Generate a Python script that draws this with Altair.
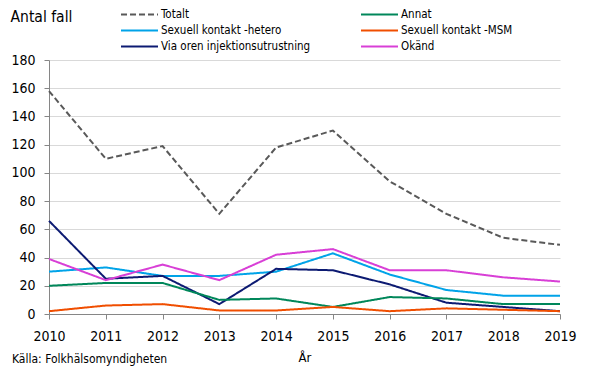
import altair as alt
import pandas as pd

years = [2010, 2011, 2012, 2013, 2014, 2015, 2016, 2017, 2018, 2019]
# legend is laid out column by column: first column, then second column
series_names = ["Totalt", "Sexuell kontakt -hetero", "Via oren injektionsutrustning",
                "Annat", "Sexuell kontakt -MSM", "Okänd"]
totalt = [158, 110, 119, 71, 118, 130, 94, 71, 54, 49]
hetero = [30, 33, 27, 27, 30, 43, 28, 17, 13, 13]
via_oren = [66, 25, 27, 7, 32, 31, 21, 8, 5, 2]
annat = [20, 22, 22, 10, 11, 5, 12, 11, 7, 7]
msm = [2, 6, 7, 2.5, 2.5, 5, 2, 4, 3, 2]
okand = [39, 24, 35, 24, 42, 46, 31, 31, 26, 23]
colors = ["#595959", "#00a3e8", "#0c1a72", "#00875a", "#f04e00", "#d83fd6"]
dashes = [[6, 3], [1, 0], [1, 0], [1, 0], [1, 0], [1, 0]]
source_note = ["Källa:  Folkhälsomyndigheten"]

values = [totalt, hetero, via_oren, annat, msm, okand]
rows = []
for name, vals in zip(series_names, values):
    for y, v in zip(years, vals):
        rows.append({"serie": name, "year": y, "value": v})
df = pd.DataFrame(rows)

FONT = "DejaVu Sans Condensed, DejaVu Sans"

legend = alt.Legend(
    title=None, orient="none", legendX=80, legendY=-56, columns=2, columnPadding=46,
    rowPadding=0, symbolType="M-2,0H2", symbolSize=342, symbolStrokeWidth=2,
    symbolOffset=0, labelFont=FONT, labelFontSize=11.5, labelColor="#000000", labelOffset=11,
    gridAlign="all",
)

lines = alt.Chart(df).mark_line(strokeWidth=2).encode(
    x=alt.X("year:Q", title="År",
            scale=alt.Scale(domain=[2010, 2019], nice=False, zero=False),
            axis=alt.Axis(values=years, format="d", grid=False, titleY=43,
                          labelFlush=False, labelPadding=10,
                          titleBaseline="middle", titleFontWeight="normal",
                          titleFont=FONT, titleFontSize=13)),
    y=alt.Y("value:Q", title="Antal fall",
            scale=alt.Scale(domain=[0, 180], nice=False),
            axis=alt.Axis(values=list(range(0, 181, 20)), grid=True,
                          titleAngle=0, titleAlign="left", titleX=-39, titleY=-44,
                          titleBaseline="middle", titleFontWeight="normal",
                          titleFont=FONT, titleFontSize=15.5)),
    color=alt.Color("serie:N", scale=alt.Scale(domain=series_names, range=colors), legend=legend),
    strokeDash=alt.StrokeDash("serie:N", scale=alt.Scale(domain=series_names, range=dashes), legend=legend),
    detail="serie:N",
)

note = alt.Chart(pd.DataFrame({"txt": source_note})).mark_text(
    align="left", baseline="middle", font=FONT, fontSize=12, color="#000000"
).encode(text="txt:N", x=alt.value(-37), y=alt.value(298.5))

chart = alt.layer(lines, note).properties(
    width=511, height=254,
    autosize=alt.AutoSizeParams(type="none"),
    padding={"left": 41, "top": 52, "right": 22, "bottom": 53},
).configure_view(stroke=None).configure_axis(
    labelFont=FONT, labelFontSize=14, labelColor="#000000",
    domainColor="#868686", tickColor="#868686", tickSize=5,
    gridColor="#d9d9d9", labelPadding=8, titleColor="#000000",
).configure_axisY(labelPadding=9)

chart.save("out.html", embed_options={"renderer": "svg", "actions": False})
